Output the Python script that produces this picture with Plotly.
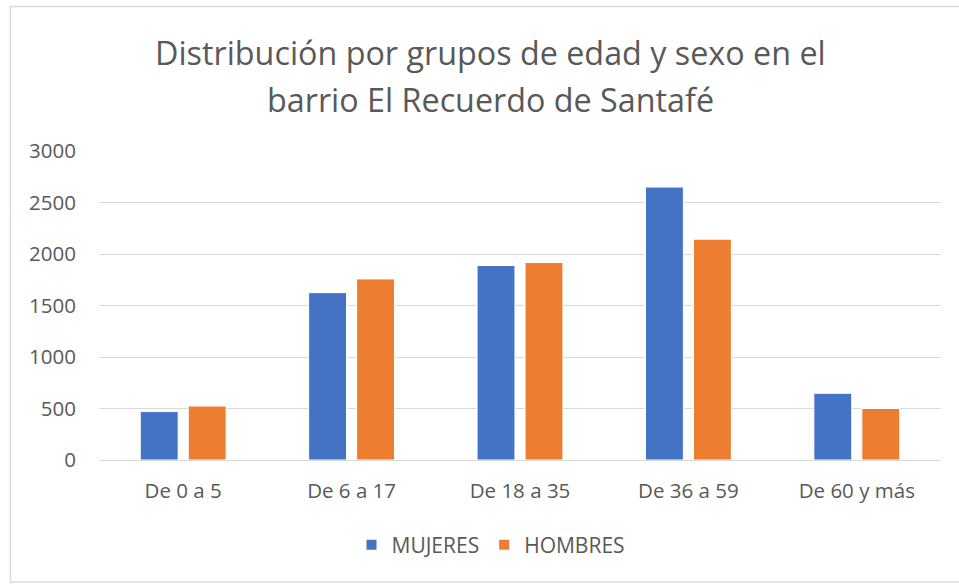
import plotly.graph_objects as go

categories = ["De 0 a 5", "De 6 a 17", "De 18 a 35", "De 36 a 59", "De 60 y más"]
mujeres = [470, 1625, 1888, 2650, 648]
hombres = [524, 1758, 1917, 2144, 500]
series_names = ["MUJERES", "HOMBRES"]
y_ticks = [0, 500, 1000, 1500, 2000, 2500, 3000]
title_lines = ["Distribución por grupos de edad y sexo en el", "barrio El Recuerdo de Santafé"]

W, H = 959, 584
L, R, T, B = 99, 18, 151, 124
FONT = "Open Sans"
GREY = "#595959"

fig = go.Figure()
fig.add_trace(go.Bar(x=categories, y=mujeres, name=series_names[0],
                     marker=dict(color="#4472C4", line=dict(color="#ffffff", width=1))))
fig.add_trace(go.Bar(x=categories, y=hombres, name=series_names[1],
                     marker=dict(color="#ED7D31", line=dict(color="#ffffff", width=1))))

pw, ph = W - L - R, H - T - B

fig.update_layout(
    width=W, height=H,
    margin=dict(l=L, r=R, t=T, b=B, autoexpand=False),
    paper_bgcolor="white", plot_bgcolor="white",
    barmode="group", bargap=0.43, bargroupgap=0.21,
    font=dict(family=FONT, color=GREY, size=20),
    showlegend=True,
    legend=dict(orientation="h", x=(491 - L) / pw, xanchor="center",
                y=(H - B - 545) / ph, yanchor="middle",
                font=dict(size=21, color=GREY), itemsizing="constant",
                traceorder="normal", itemwidth=30),
)
fig.update_yaxes(range=[0, 3000], tickvals=y_ticks, showgrid=True, gridcolor="#d9d9d9",
                 gridwidth=1, zeroline=True, zerolinecolor="#d9d9d9", zerolinewidth=1,
                 showline=False, ticks="", ticklabelstandoff=22,
                 tickfont=dict(size=20.5, color=GREY, family=FONT), fixedrange=True)
fig.update_xaxes(showline=False, ticks="", ticklabelstandoff=16,
                 tickfont=dict(size=20.5, color=GREY, family=FONT), fixedrange=True)

fig.add_annotation(text=title_lines[0], xref="paper", yref="paper",
                   x=(490 - L) / pw, y=(H - B - 52) / ph,
                   xanchor="center", yanchor="middle", showarrow=False,
                   font=dict(size=32.3, color=GREY, family=FONT))
fig.add_annotation(text=title_lines[1], xref="paper", yref="paper",
                   x=(490 - L) / pw, y=(H - B - 99) / ph,
                   xanchor="center", yanchor="middle", showarrow=False,
                   font=dict(size=32.3, color=GREY, family=FONT))

# chart-area border
fig.add_shape(type="rect", xref="paper", yref="paper",
              x0=(10.5 - L) / pw, x1=(975 - L) / pw,
              y0=(H - B - 582) / ph, y1=(H - B - 6.5) / ph,
              line=dict(color="#d9d9d9", width=1.3), fillcolor="rgba(0,0,0,0)", layer="below")

fig.write_html("out.html", config={"displayModeBar": False},
               post_script="document.body.style.margin='0';document.body.style.overflow='hidden';")
